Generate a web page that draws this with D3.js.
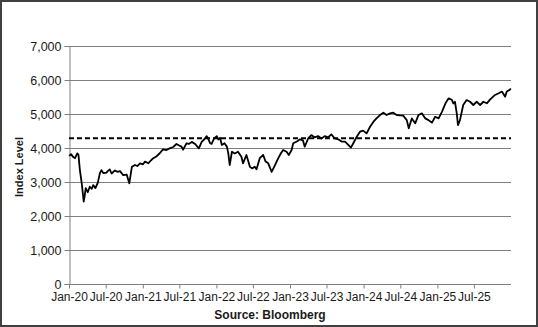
<!DOCTYPE html>
<html>
<head>
<meta charset="utf-8">
<script src="https://cdn.jsdelivr.net/npm/d3@7"></script>
<style>
  html, body { margin: 0; padding: 0; background: #fff; }
  svg { display: block; font-family: "Liberation Sans", Arial, sans-serif; }
</style>
</head>
<body>
<svg id="chart" width="538" height="327"></svg>
<script>
// ---- data ----
const dates = [
  "2020-01-02","2020-01-11","2020-01-21","2020-01-31","2020-02-11","2020-02-17","2020-02-24","2020-03-04","2020-03-09","2020-03-14",
  "2020-03-19","2020-03-24","2020-04-03","2020-04-13","2020-04-23","2020-04-30","2020-05-11","2020-05-23","2020-06-02","2020-06-10",
  "2020-06-19","2020-07-05","2020-07-11","2020-07-21","2020-07-30","2020-08-16","2020-08-28","2020-09-10","2020-09-26","2020-10-13",
  "2020-10-26","2020-11-08","2020-11-23","2020-12-05","2020-12-18",
  "2021-01-02","2021-01-12","2021-01-28","2021-02-11","2021-02-22","2021-03-09","2021-03-26","2021-04-11","2021-04-28","2021-05-14",
  "2021-06-01","2021-06-17","2021-06-28","2021-07-12","2021-07-20","2021-08-06","2021-08-17","2021-09-01","2021-09-17","2021-10-06",
  "2021-10-20","2021-11-01","2021-11-14","2021-11-23","2021-11-30","2021-12-08","2021-12-21",
  "2022-01-03","2022-01-11","2022-01-19","2022-01-28","2022-02-10","2022-02-22","2022-03-01","2022-03-08","2022-03-19","2022-04-02",
  "2022-04-18","2022-05-05","2022-05-13","2022-05-30","2022-06-16","2022-06-27","2022-07-10","2022-07-19","2022-08-04","2022-08-21",
  "2022-09-02","2022-09-15","2022-10-02","2022-10-15","2022-11-04","2022-11-17","2022-11-28","2022-12-15","2022-12-26",
  "2023-01-09","2023-01-17","2023-02-04","2023-02-20","2023-03-06","2023-03-15","2023-04-01","2023-04-17","2023-05-03","2023-05-20",
  "2023-06-06","2023-06-22","2023-07-09","2023-07-25","2023-08-11","2023-08-28","2023-09-14","2023-10-01","2023-10-17","2023-10-30",
  "2023-11-11","2023-11-28","2023-12-14","2023-12-30",
  "2024-01-16","2024-02-02","2024-02-19","2024-03-05","2024-03-22","2024-04-08","2024-04-24","2024-05-11","2024-05-27","2024-06-13",
  "2024-06-30","2024-07-16","2024-08-02","2024-08-12","2024-08-27","2024-09-13","2024-09-29","2024-10-16","2024-11-02","2024-11-18",
  "2024-12-05","2024-12-21",
  "2025-01-07","2025-01-24","2025-02-10","2025-02-26","2025-03-13","2025-03-21","2025-03-29","2025-04-07","2025-04-13","2025-04-23",
  "2025-05-09","2025-05-26","2025-06-12","2025-06-28","2025-07-15","2025-08-01","2025-08-17","2025-09-03","2025-09-20","2025-10-14",
  "2025-11-01","2025-11-17","2025-12-03","2025-12-11","2025-12-24","2025-12-31"
];
const values = [
  3765,3820,3740,3700,3840,3800,3350,2970,2700,2420,
  2600,2820,2700,2860,2800,2910,2820,2980,3255,3350,
  3260,3275,3320,3370,3250,3340,3300,3320,3200,3220,
  2960,3450,3500,3470,3550,
  3520,3600,3550,3640,3700,3750,3845,3960,3940,3990,
  4030,4120,4080,4040,3950,4140,4120,4180,4120,3990,
  4180,4250,4350,4250,4150,4120,4280,
  4350,4250,4300,4090,4140,4040,3845,3500,3890,3840,
  3890,3745,3550,3795,3450,3400,3450,3375,3700,3795,
  3600,3550,3300,3450,3700,3845,3940,3890,3795,
  3940,4140,4190,4255,4225,4040,4280,4380,4310,4350,
  4280,4350,4310,4400,4280,4255,4190,4190,4090,4010,
  4140,4330,4480,4510,
  4430,4625,4775,4870,4970,5040,4970,5020,5040,4970,
  4960,4950,4820,4580,4870,4725,4970,5020,4870,4820,
  4745,4920,
  4870,5070,5315,5460,5420,5310,5360,5020,4675,4820,
  5265,5410,5360,5265,5360,5265,5360,5315,5430,5560,
  5610,5660,5510,5660,5705,5750
];
const averageLevel = 4290;             // dashed reference line
const yTickValues = [0,1000,2000,3000,4000,5000,6000,7000];
const xTickLabels = ["Jan-20","Jul-20","Jan-21","Jul-21","Jan-22","Jul-22","Jan-23","Jul-23","Jan-24","Jul-24","Jan-25","Jul-25"];
const yAxisTitle = "Index Level";
const sourceText = "Source: Bloomberg";

// ---- drawing ----
const svg = d3.select("#chart");
const W = 538, H = 327;
const mLeft = 69, mRight = 511, mTop = 46, mBottom = 284;

const parse = d3.timeParse("%Y-%m-%d");
const data = dates.map((d, i) => ({ date: parse(d), value: values[i] }));
const tickDates = xTickLabels.map(d3.timeParse("%b-%y"));

const x = d3.scaleTime()
  .domain([new Date(2020, 0, 1), new Date(2026, 0, 1)])
  .range([mLeft, mRight]);
const y = d3.scaleLinear().domain([0, 7000]).range([mBottom, mTop]);

// outer frame
svg.append("rect")
  .attr("x", 1).attr("y", 1).attr("width", W - 2).attr("height", H - 2)
  .attr("fill", "#fff").attr("stroke", "#404040").attr("stroke-width", 2);

// gridlines
svg.append("g")
  .selectAll("line")
  .data(yTickValues.filter(v => v > 0))
  .join("line")
  .attr("x1", mLeft).attr("x2", mRight)
  .attr("y1", d => Math.round(y(d)) + 0.5).attr("y2", d => Math.round(y(d)) + 0.5)
  .attr("stroke", "#808080").attr("stroke-width", 1);

// y axis
const yAxis = svg.append("g")
  .attr("transform", `translate(${mLeft + 0.5},0)`)
  .call(d3.axisLeft(y).tickValues(yTickValues).tickSize(5).tickPadding(3)
    .tickFormat(d3.format(",")));
yAxis.select(".domain").attr("stroke", "#808080");
yAxis.selectAll(".tick line").attr("stroke", "#808080");
yAxis.selectAll(".tick text")
  .attr("font-size", 12.5).attr("fill", "#1a1a1a")
  .attr("font-family", "Liberation Sans, Arial, sans-serif");

// x axis
const xAxis = svg.append("g")
  .attr("transform", `translate(0,${mBottom + 0.5})`)
  .call(d3.axisBottom(x).tickValues(tickDates).tickSize(4).tickPadding(4)
    .tickFormat(d3.timeFormat("%b-%y")));
xAxis.select(".domain").attr("stroke", "#808080").attr("d", `M${mLeft},0H${mRight}`);
xAxis.selectAll(".tick line").attr("stroke", "#808080");
xAxis.selectAll(".tick text")
  .attr("font-size", 12).attr("fill", "#1a1a1a")
  .attr("font-family", "Liberation Sans, Arial, sans-serif");

// dashed average line
svg.append("line")
  .attr("x1", mLeft).attr("x2", mRight)
  .attr("y1", y(averageLevel)).attr("y2", y(averageLevel))
  .attr("stroke", "#000").attr("stroke-width", 2)
  .attr("stroke-dasharray", "5,3");

// index line
const line = d3.line().x(d => x(d.date)).y(d => y(d.value));
svg.append("path")
  .datum(data)
  .attr("d", line)
  .attr("fill", "none")
  .attr("stroke", "#000")
  .attr("stroke-width", 1.8)
  .attr("stroke-linejoin", "round");

// axis title
svg.append("text")
  .attr("transform", `translate(23,167) rotate(-90)`)
  .attr("text-anchor", "middle")
  .attr("font-size", 11).attr("font-weight", "bold").attr("fill", "#1a1a1a")
  .text(yAxisTitle);

// source
svg.append("text")
  .attr("x", 270).attr("y", 319)
  .attr("text-anchor", "middle")
  .attr("font-size", 12).attr("font-weight", "bold").attr("fill", "#1a1a1a")
  .text(sourceText);
</script>
</body>
</html>
